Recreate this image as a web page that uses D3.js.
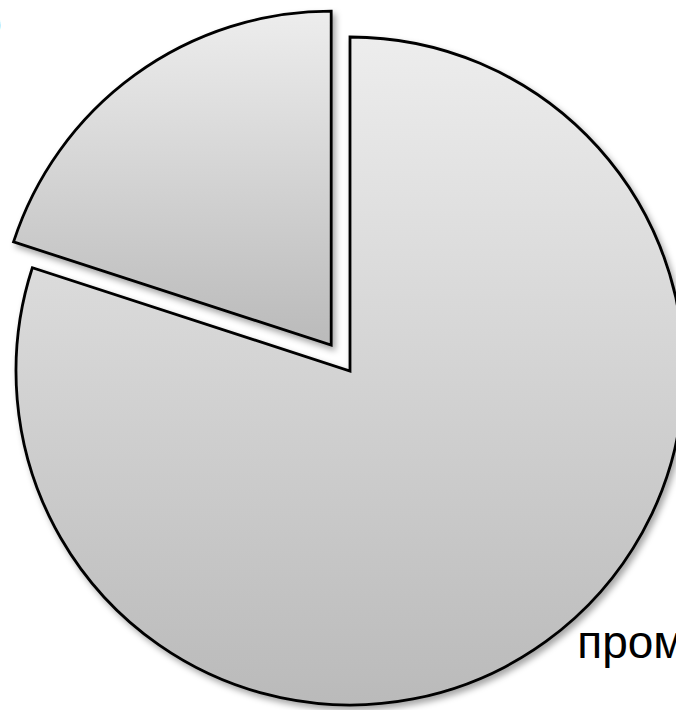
<!DOCTYPE html>
<html>
<head>
<meta charset="utf-8">
<script src="https://cdn.jsdelivr.net/npm/d3@7"></script>
<style>
  body { margin: 0; background: #fff; }
  #container-pie { width: 676px; height: 710px; overflow: hidden; }
  .label { font-family: Arial, "Liberation Sans", sans-serif; font-size: 46px; fill: #000; }
</style>
</head>
<body>
<div id="container-pie"></div>
<script>
// data
let categories = ["промышленность", "сельское хозяйство"];
let values = [80, 20];
let exploded = [false, true];

visualizePie();

function visualizePie() {
  vis = this;

  vis.w = 676;
  vis.h = 710;
  vis.cx = 350;
  vis.cy = 371;
  vis.r = 334;
  vis.explode = 32;

  vis.svg = d3.select("#container-pie")
    .append("svg")
    .attr("width", vis.w)
    .attr("height", vis.h);

  let defs = vis.svg.append("defs");

  //degradado gris
  let grad = defs.append("linearGradient")
    .attr("id", "gris")
    .attr("x1", 0).attr("y1", 0)
    .attr("x2", 0).attr("y2", 1);
  grad.append("stop").attr("offset", "0%").attr("stop-color", "#ededed");
  grad.append("stop").attr("offset", "100%").attr("stop-color", "#bababa");

  //sombra
  let f = defs.append("filter")
    .attr("id", "sombra")
    .attr("x", "-10%").attr("y", "-10%")
    .attr("width", "120%").attr("height", "120%");
  f.append("feDropShadow")
    .attr("dx", 3).attr("dy", 4)
    .attr("stdDeviation", 3)
    .attr("flood-color", "#000")
    .attr("flood-opacity", 0.35);

  let data = categories.map((c, i) => ({ key: c, value: values[i], out: exploded[i] }));

  vis.pie = d3.pie()
    .sort(null)
    .value(d => d.value);

  vis.arc = d3.arc()
    .innerRadius(0)
    .outerRadius(vis.r);

  let arcs = vis.pie(data);

  let offset = d => {
    if (!d.data.out) return [0, 0];
    let a = (d.startAngle + d.endAngle) / 2;
    return [Math.sin(a) * vis.explode, -Math.cos(a) * vis.explode];
  };

  vis.g = vis.svg.append("g")
    .attr("transform", `translate(${vis.cx}, ${vis.cy})`);

  vis.g.selectAll(".slice")
    .data(arcs)
    .enter()
    .append("path")
    .attr("class", "slice")
    .attr("transform", d => `translate(${offset(d)[0]}, ${offset(d)[1]})`)
    .attr("d", vis.arc)
    .attr("fill", "url(#gris)")
    .attr("stroke", "#000")
    .attr("stroke-width", 2.8)
    .attr("stroke-linejoin", "miter")
    .attr("filter", "url(#sombra)");

  //textos
  let labelR = vis.r + 34;
  vis.g.selectAll(".label")
    .data(arcs)
    .enter()
    .append("text")
    .attr("class", "label")
    .attr("x", d => {
      let a = (d.startAngle + d.endAngle) / 2;
      let x = offset(d)[0] + Math.sin(a) * labelR;
      return Math.sin(a) >= 0 ? x + 11 : x - 113;
    })
    .attr("y", d => {
      let a = (d.startAngle + d.endAngle) / 2;
      let y = offset(d)[1] - Math.cos(a) * labelR;
      return Math.sin(a) >= 0 ? y - 11 : y - 9;
    })
    .attr("text-anchor", d => Math.sin((d.startAngle + d.endAngle) / 2) >= 0 ? "start" : "end")
    .text(d => d.data.key);
}
</script>
</body>
</html>
